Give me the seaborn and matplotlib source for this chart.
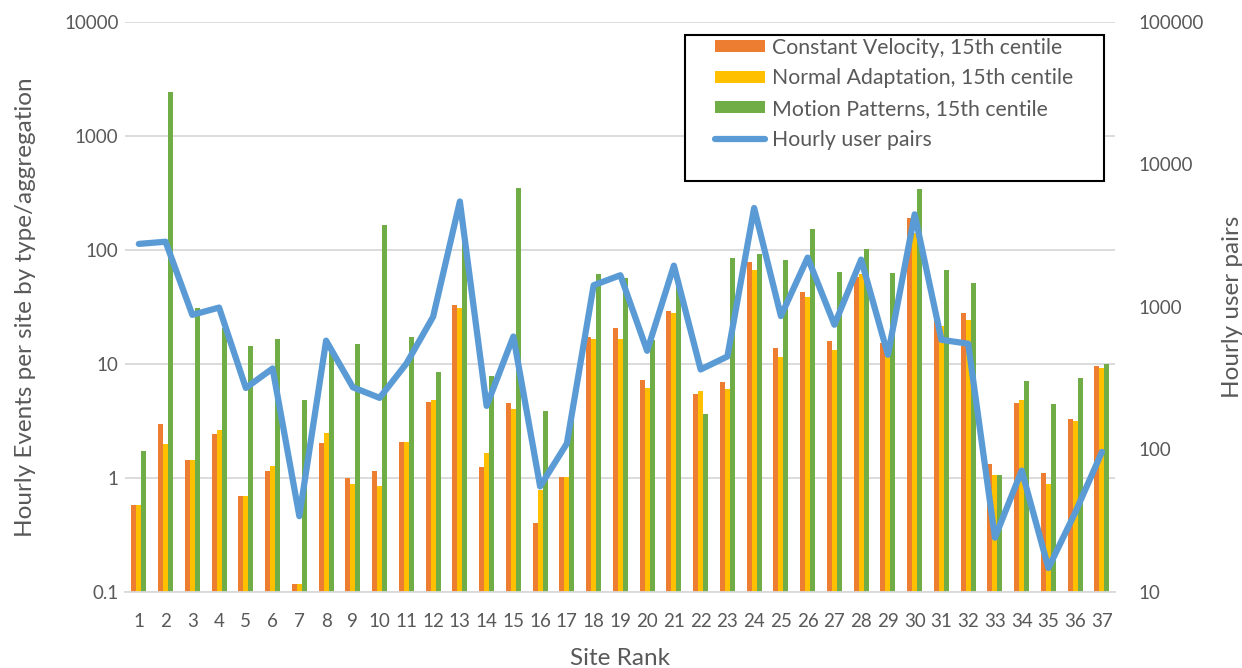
import numpy as np
import pandas as pd
import matplotlib
matplotlib.use("Agg")
import matplotlib.pyplot as plt
import seaborn as sns
from matplotlib.patches import Patch, Rectangle
from matplotlib.lines import Line2D

# ─── Data ──────────────────────────────────────────────────────────────
sites = list(range(1, 38))
constant_velocity = [0.58, 3.0, 1.43, 2.41, 0.69, 1.16, 0.117, 2.02, 1.0, 1.14,
                     2.07, 4.6, 32.7, 1.25, 4.57, 0.40, 1.02, 17.4, 20.7, 7.2,
                     29.4, 5.5, 6.9, 79, 13.9, 43.2, 16.0, 58, 15.3, 190,
                     25, 28, 1.33, 4.53, 1.11, 3.26, 9.6]
normal_adaptation = [0.58, 1.99, 1.43, 2.65, 0.69, 1.26, 0.117, 2.5, 0.89, 0.85,
                     2.07, 4.83, 31.1, 1.67, 4.05, 0.78, 1.02, 16.7, 16.7, 6.2,
                     27.9, 5.8, 6.0, 66.5, 11.5, 38.9, 13.2, 62, 12, 140,
                     21.4, 24.5, 1.07, 4.87, 0.89, 3.16, 9.3]
motion_patterns = [1.72, 2430, 31.1, 20.7, 14.3, 16.5, 4.8, 13.5, 14.9, 166,
                   17.1, 8.5, 130, 7.9, 348, 3.9, 3.2, 62, 57, 16.2,
                   55, 3.65, 84.5, 92, 81, 153, 63.8, 102, 63, 345,
                   67, 51.5, 1.07, 7.15, 4.42, 7.55, 10]
user_pairs = [2770, 2870, 880, 990, 270, 370, 34, 580, 273, 230,
              400, 853, 5500, 202, 620, 55, 110, 1420, 1670, 492,
              1950, 364, 449, 4950, 863, 2220, 750, 2150, 461, 4470,
              588, 552, 24, 71, 14.7, 36, 96]

series_names = ["Constant Velocity, 15th centile",
                "Normal Adaptation, 15th centile",
                "Motion Patterns, 15th centile"]
line_name = "Hourly user pairs"
left_ticks = [0.1, 1, 10, 100, 1000, 10000]
left_labels = ["0.1", "1", "10", "100", "1000", "10000"]
right_ticks = [10, 100, 1000, 10000, 100000]
right_labels = ["10", "100", "1000", "10000", "100000"]

colors = ["#ED7D31", "#FFC000", "#70AD47"]
line_color = "#5B9BD5"
text_color = "#595959"
grid_color = "#D9D9D9"

df = pd.DataFrame({
    "site": sites * 3,
    "series": [n for n in series_names for _ in sites],
    "value": constant_velocity + normal_adaptation + motion_patterns,
})

# ─── Plot ──────────────────────────────────────────────────────────────
sns.set_theme(style="white")
plt.rcParams["font.family"] = ["Lato", "DejaVu Sans"]
plt.rcParams["text.color"] = text_color

fig = plt.figure(figsize=(12.42, 6.68), dpi=100)
ax = fig.add_axes([0.101, 0.114, 0.797, 0.853])

sns.barplot(data=df, x="site", y="value", hue="series", hue_order=series_names,
            palette=colors, width=0.56, gap=0, errorbar=None, saturation=1,
            linewidth=0, legend=False, ax=ax)
ax.set_yscale("log")
ax.set_ylim(0.1, 10000)
ax.set_yticks(left_ticks)
ax.set_yticklabels(left_labels)
ax.yaxis.set_minor_locator(matplotlib.ticker.NullLocator())
ax.grid(axis="y", color=grid_color, lw=1.3)
ax.set_axisbelow(True)
for s in ["left", "right", "top"]:
    ax.spines[s].set_visible(False)
ax.spines["bottom"].set_color(grid_color)
ax.spines["bottom"].set_linewidth(1.3)
ax.tick_params(axis="both", length=0, labelsize=13.5, colors=text_color)
ax.tick_params(axis="x", pad=15)
ax.tick_params(axis="y", pad=5)
ax.set_xlabel("Site Rank", fontsize=17.5, color=text_color, labelpad=13)
ax.set_ylabel("Hourly Events per site by type/aggregation", fontsize=17.5,
              color=text_color, labelpad=20)

ax2 = ax.twinx()
sns.lineplot(x=np.arange(len(sites)), y=user_pairs, color=line_color, lw=4.5,
             ax=ax2)
ax2.set_yscale("log")
ax2.set_ylim(10, 100000)
ax2.set_yticks(right_ticks)
ax2.set_yticklabels(right_labels)
ax2.yaxis.set_minor_locator(matplotlib.ticker.NullLocator())
for s in ["left", "right", "top", "bottom"]:
    ax2.spines[s].set_visible(False)
ax2.tick_params(axis="y", length=0, labelsize=13.5, colors=text_color, pad=17)
ax2.set_ylabel("Hourly user pairs", fontsize=17.5, color=text_color, labelpad=13)
ax.set_xlim(-0.5, len(sites) - 0.5)

# legend with an Excel-like box
fig.patches.append(Rectangle((0.5515, 0.729), 0.3375, 0.219, transform=fig.transFigure,
                             fill=True, facecolor="white", edgecolor="black",
                             lw=1.5, zorder=5))
handles = [Patch(facecolor=c, edgecolor="none") for c in colors]
handles.append(Line2D([0], [0], color=line_color, lw=4.5))
leg = fig.legend(handles, series_names + [line_name], loc="upper left",
                 bbox_to_anchor=(0.572, 0.950), frameon=False, fontsize=15.3,
                 handlelength=2.35, handleheight=0.5, handletextpad=0.33,
                 labelspacing=0.5, borderpad=0.2, borderaxespad=0)
leg.set_zorder(6)
for t in leg.get_texts():
    t.set_color(text_color)

plt.savefig("out.png", dpi=100)
